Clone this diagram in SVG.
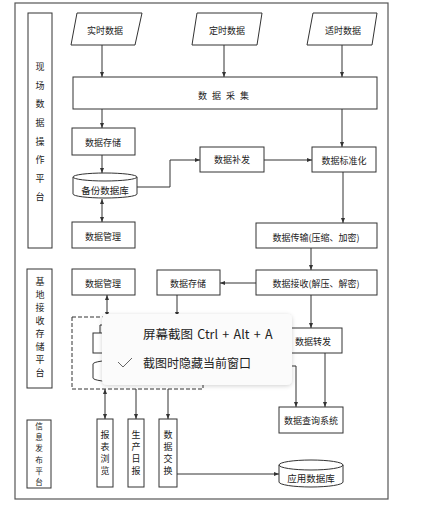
<svg xmlns="http://www.w3.org/2000/svg" width="429" height="507" viewBox="0 0 429 507">
<style>
.b{fill:#fff;stroke:#333;stroke-width:1}
.t{font-family:"Noto Sans CJK SC","Noto Sans",sans-serif;font-size:9px;fill:#222;text-anchor:middle;dominant-baseline:central}
.v{font-family:"Noto Sans CJK SC","Noto Sans",sans-serif;font-size:9px;fill:#222;text-anchor:middle}
.v2{font-family:"Noto Sans CJK SC","Noto Sans",sans-serif;font-size:7.6px;fill:#222;text-anchor:middle}
.db{font-size:9.5px}
.c{fill:none;stroke:#333;stroke-width:1}
.m{font-family:"Noto Sans CJK SC","Noto Sans",sans-serif;font-size:12px;fill:#222}
.m1{font-size:12.5px;word-spacing:1.5px}
</style>
<defs>
<marker id="a" viewBox="0 0 10 10" refX="10" refY="5" markerWidth="5" markerHeight="5" orient="auto-start-reverse"><path d="M0,1 L10,5 L0,9 z" fill="#333"/></marker>
<filter id="sh" x="-10%" y="-20%" width="120%" height="150%"><feDropShadow dx="0" dy="1" stdDeviation="2" flood-color="#000" flood-opacity="0.18"/></filter>
</defs>
<rect width="429" height="507" fill="#fff"/>
<rect x="15" y="3" width="373" height="496" fill="none" stroke="#555" stroke-width="1.2"/>

<g id="lane1"><rect class="b" x="28" y="13" width="24" height="235"/>
<text class="v" x="40"><tspan x="40" y="70">现</tspan><tspan x="40" y="89">场</tspan><tspan x="40" y="107">数</tspan><tspan x="40" y="126">据</tspan><tspan x="40" y="145">操</tspan><tspan x="40" y="163">作</tspan><tspan x="40" y="182">平</tspan><tspan x="40" y="200">台</tspan></text></g>
<g id="lane2"><rect class="b" x="27" y="269" width="25" height="119"/>
<text class="v"><tspan x="40" y="285">基</tspan><tspan x="40" y="298">地</tspan><tspan x="40" y="311">接</tspan><tspan x="40" y="324">收</tspan><tspan x="40" y="337">存</tspan><tspan x="40" y="350">储</tspan><tspan x="40" y="363">平</tspan><tspan x="40" y="376">台</tspan></text></g>
<g id="lane3"><rect class="b" x="27" y="420" width="24" height="68"/>
<text class="v2"><tspan x="39" y="429">信</tspan><tspan x="39" y="440.2">息</tspan><tspan x="39" y="451.4">发</tspan><tspan x="39" y="462.6">布</tspan><tspan x="39" y="473.8">平</tspan><tspan x="39" y="485">台</tspan></text></g>

<g id="connectors">
<path class="c" d="M102,45 V77" marker-end="url(#a)"/>
<path class="c" d="M224,45 V77" marker-end="url(#a)"/>
<path class="c" d="M342,45 V77" marker-end="url(#a)"/>
<path class="c" d="M102,109 V128" marker-end="url(#a)"/>
<path class="c" d="M342,109 V147" marker-end="url(#a)"/>
<path class="c" d="M102,155 V173" marker-end="url(#a)"/>
<path class="c" d="M102,199 V222" marker-start="url(#a)" marker-end="url(#a)"/>
<path class="c" d="M137,187 H170 V160 H200" marker-end="url(#a)"/>
<path class="c" d="M264,160 H312" marker-end="url(#a)"/>
<path class="c" d="M343,172 V223" marker-end="url(#a)"/>
<path class="c" d="M311,248 V270" marker-end="url(#a)"/>
<path class="c" d="M256,283 H220" marker-end="url(#a)"/>
<path class="c" d="M311,295 V328" marker-end="url(#a)"/>
<path class="c" d="M325,353 V407" marker-end="url(#a)"/>
<path class="c" d="M203,366 H296 V407" marker-end="url(#a)"/>
<path class="c" d="M107,295 V317" marker-start="url(#a)" marker-end="url(#a)"/>
<path class="c" d="M177,295 V317" marker-end="url(#a)"/>
<path class="c" d="M105,389 V419" marker-start="url(#a)" marker-end="url(#a)"/>
<path class="c" d="M136,389 V419" marker-end="url(#a)"/>
<path class="c" d="M168,389 V419" marker-end="url(#a)"/>
<path class="c" d="M177,474 H279" marker-end="url(#a)"/>
</g>

<g id="n-realtime"><path class="b" d="M77,13 H142 L135,45 H71 Z"/><text class="t" x="105" y="30">实时数据</text></g>
<g id="n-timed"><path class="b" d="M197,13 H262 L257,45 H192 Z"/><text class="t" x="227" y="30">定时数据</text></g>
<g id="n-ontime"><path class="b" d="M313,13 H377 L372,45 H307 Z"/><text class="t" x="343" y="30">适时数据</text></g>
<g id="n-collect"><rect class="b" x="73" y="77" width="304" height="32"/><text class="t" x="226" y="95" letter-spacing="5">数据采集</text></g>
<g id="n-store1"><rect class="b" x="72" y="128" width="63" height="27"/><text class="t" x="103" y="142">数据存储</text></g>
<g id="n-backupdb"><path class="b" d="M73,177 V194 A32,4 0 0 0 137,194 V177 A32,4 0 0 0 73,177 Z"/><path class="c" d="M73,177 A32,4 0 0 0 137,177"/><text class="t db" x="105" y="190">备份数据库</text></g>
<g id="n-manage1"><rect class="b" x="72" y="222" width="63" height="26"/><text class="t" x="103" y="236">数据管理</text></g>
<g id="n-resend"><rect class="b" x="200" y="147" width="64" height="25"/><text class="t" x="232" y="159">数据补发</text></g>
<g id="n-standard"><rect class="b" x="312" y="147" width="64" height="25"/><text class="t" x="344" y="160">数据标准化</text></g>
<g id="n-transfer"><rect class="b" x="256" y="223" width="121" height="25"/><text class="t" x="316" y="237">数据传输(压缩、加密)</text></g>
<g id="n-receive"><rect class="b" x="256" y="270" width="121" height="25"/><text class="t" x="316" y="283">数据接收(解压、解密)</text></g>
<g id="n-store2"><rect class="b" x="157" y="270" width="63" height="25"/><text class="t" x="188" y="283">数据存储</text></g>
<g id="n-manage2"><rect class="b" x="72" y="269" width="63" height="26"/><text class="t" x="103" y="283">数据管理</text></g>
<g id="n-forward"><rect class="b" x="282" y="328" width="60" height="25"/><text class="t" x="313" y="341">数据转发</text></g>
<g id="n-dashed"><rect x="72" y="317" width="131" height="72" fill="none" stroke="#333" stroke-dasharray="4,2"/>
<path class="c" d="M100,333 V325 H140"/><rect class="b" x="93" y="333" width="50" height="20"/>
<path class="b" d="M93,364 V378 A28,4 0 0 0 149,378 V364 A28,4 0 0 0 93,364 Z"/></g>
<g id="n-query"><rect class="b" x="279" y="407" width="64" height="26"/><text class="t" x="311" y="420">数据查询系统</text></g>
<g id="n-appdb"><path class="b" d="M279,465 V482 A32,5 0 0 0 343,482 V465 A32,5 0 0 0 279,465 Z"/><path class="c" d="M279,465 A32,5 0 0 0 343,465"/><text class="t db" x="311" y="478">应用数据库</text></g>
<g id="n-report"><rect class="b" x="97" y="419" width="16" height="68"/><text class="v"><tspan x="105" y="438">报</tspan><tspan x="105" y="450">表</tspan><tspan x="105" y="462">浏</tspan><tspan x="105" y="474">览</tspan></text></g>
<g id="n-daily"><rect class="b" x="128" y="419" width="16" height="68"/><text class="v"><tspan x="136" y="438">生</tspan><tspan x="136" y="450">产</tspan><tspan x="136" y="462">日</tspan><tspan x="136" y="474">报</tspan></text></g>
<g id="n-exchange"><rect class="b" x="159" y="419" width="18" height="68"/><text class="v"><tspan x="168" y="438">数</tspan><tspan x="168" y="450">据</tspan><tspan x="168" y="462">交</tspan><tspan x="168" y="474">换</tspan></text></g>

<g id="overlay-menu"><rect x="102" y="314" width="190" height="71" rx="5" fill="#fbfbfb" filter="url(#sh)"/>
<text class="m m1" x="143" y="339">屏幕截图 Ctrl + Alt + A</text>
<path d="M118,362 L123,367 L132,358" fill="none" stroke="#555" stroke-width="0.9"/>
<text class="m" x="143" y="368">截图时隐藏当前窗口</text></g>
</svg>
